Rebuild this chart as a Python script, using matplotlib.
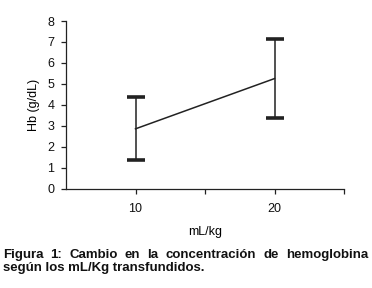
import numpy as np
import matplotlib.pyplot as plt

plt.rcParams['font.family'] = ['Liberation Sans', 'DejaVu Sans']

doses = ['10', '20']
xpos = [1, 3]
hb_mean = [2.85, 5.25]
hb_err = [1.5, 1.9]
caption = ['Figura 1: Cambio en la concentración de hemoglobina',
           'según los mL/Kg transfundidos.']

fig = plt.figure(figsize=(3.72, 2.88), dpi=100)
ax = fig.add_axes([66 / 372, 1 - 188.5 / 288, (344 - 66) / 372, (188.5 - 21) / 288])

ax.errorbar(xpos, hb_mean, yerr=hb_err, color='#222222', lw=1.1,
            elinewidth=1.1, capsize=6.5, capthick=2.6)

ax.set_xlim(0, 4)
ax.set_ylim(0, 8)
ax.set_xticks([1, 2, 3, 4])
ax.set_xticklabels([doses[0], '', doses[1], ''])
ax.set_yticks(range(9))
for s in ['top', 'right']:
    ax.spines[s].set_visible(False)
for s in ['left', 'bottom']:
    ax.spines[s].set_linewidth(0.9)
    ax.spines[s].set_color('#222222')
ax.tick_params(direction='out', length=3.5, width=0.9, color='#222222',
               labelsize=9, labelcolor='#111111')
ax.tick_params(axis='x', pad=7)
ax.tick_params(axis='y', pad=5)
ax.set_ylabel('Hb (g/dL)', fontsize=9, labelpad=5)
ax.set_xlabel('mL/kg', fontsize=9, labelpad=8)

# caption: first line justified across the figure width
fig.canvas.draw()
r = fig.canvas.get_renderer()
x0, x1 = 3 / 372, 368 / 372
words = caption[0].split()
arts = [fig.text(0, 1 - 255 / 288, w, fontsize=9.5, fontweight='bold',
                 va='center', ha='left', color='#111111') for w in words]
widths = [a.get_window_extent(r).width / 372 for a in arts]
gap = (x1 - x0 - sum(widths)) / (len(words) - 1)
x = x0
for a, w in zip(arts, widths):
    a.set_x(x)
    x += w + gap
fig.text(x0, 1 - 268 / 288, caption[1], fontsize=9.5, fontweight='bold',
         va='center', ha='left', color='#111111')

fig.savefig('out.png', dpi=100)
